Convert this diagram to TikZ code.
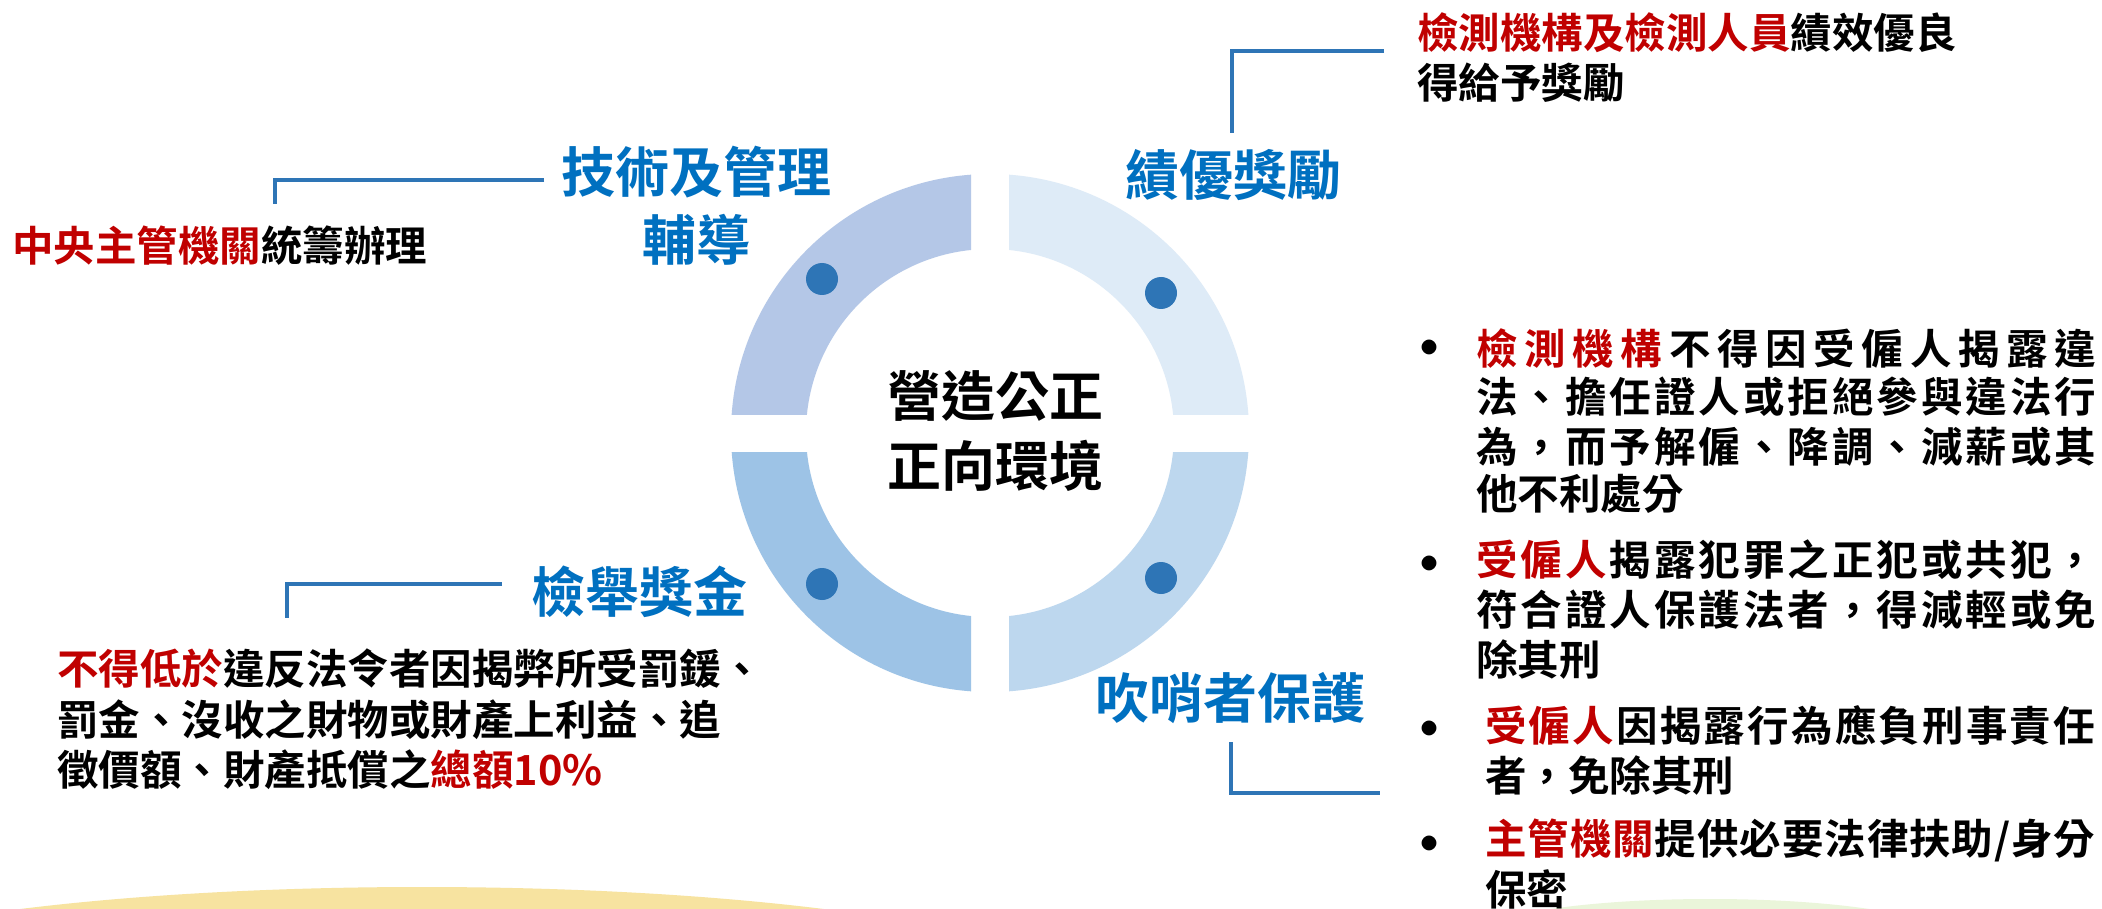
\documentclass[tikz,border=0pt]{standalone}
\usepackage{fontspec}
\setmainfont{Noto Sans CJK TC}[BoldFont={Noto Sans CJK TC Bold}]
\definecolor{qtl}{HTML}{B4C7E7}
\definecolor{qtr}{HTML}{DEEBF7}
\definecolor{qbl}{HTML}{9DC3E6}
\definecolor{qbr}{HTML}{BDD7EE}
\definecolor{dotc}{HTML}{2E75B6}
\definecolor{lblue}{HTML}{0070C0}
\definecolor{myred}{HTML}{C00000}
\definecolor{glowy}{HTML}{F7E3A0}
\definecolor{glowg}{HTML}{EAF5DA}
\pgfdeclareradialshading{yglow}{\pgfpoint{0bp}{0bp}}{color(0bp)=(glowy); color(42bp)=(glowy); color(50bp)=(white)}
\pgfdeclareradialshading{gglow}{\pgfpoint{0bp}{0bp}}{color(0bp)=(glowg); color(30bp)=(glowg); color(50bp)=(white)}
\newcommand\spc[1]{\spA#1\relax}
\def\spA#1{\ifx#1\relax\else#1\hfil\expandafter\spA\fi}
\newcommand\jline[2]{\makebox[#1][s]{#2\unskip}}
\newcommand\rd[1]{\textcolor{myred}{#1}}
\tikzset{
  bluelab/.style={text=lblue, inner sep=0pt, font=\bfseries\fontsize{54}{64}\selectfont},
  centlab/.style={text=black, inner sep=0pt, font=\bfseries\fontsize{54}{64}\selectfont},
  body/.style={text=black, inner sep=0pt, anchor=west, font=\bfseries\fontsize{41.5}{50}\selectfont},
  bul/.style={text=black, inner sep=0pt, font=\bfseries\fontsize{58}{64}\selectfont},
  conn/.style={draw=dotc, line width=3.5pt},
  dotnode/.style={circle, fill=dotc, minimum size=32pt, inner sep=0pt}
}
\begin{document}
\begin{tikzpicture}[x=1pt,y=-1pt]
\useasboundingbox (0,0) rectangle (2102,909);
\fill[white] (0,0) rectangle (2102,909);
% bottom glows
\begin{scope}
\clip (0,0) rectangle (2102,909);
\shade[shading=yglow] (422,995) ellipse (664pt and 108pt);
\shade[shading=gglow] (1710,935) ellipse (230pt and 36pt);
\end{scope}
% ring quadrants
\begin{scope}
\clip (0,0) rectangle (971,414);
\fill[qtl, even odd rule] (990,433) circle (259pt) (990,433) circle (184pt);
\end{scope}
\begin{scope}
\clip (1009,0) rectangle (2102,414);
\fill[qtr, even odd rule] (990,433) circle (259pt) (990,433) circle (184pt);
\end{scope}
\begin{scope}
\clip (0,452) rectangle (971,909);
\fill[qbl, even odd rule] (990,433) circle (259pt) (990,433) circle (184pt);
\end{scope}
\begin{scope}
\clip (1009,452) rectangle (2102,909);
\fill[qbr, even odd rule] (990,433) circle (259pt) (990,433) circle (184pt);
\end{scope}
% dots
\node[dotnode] (dtl) at (822,279) {};
\node[dotnode] (dtr) at (1161,293) {};
\node[dotnode] (dbl) at (822,584) {};
\node[dotnode] (dbr) at (1161,578) {};
% centre text
\node[centlab] (c1) at (995,396) {營造公正};
\node[centlab] (c2) at (995,466) {正向環境};
% blue labels
\node[bluelab] (l1a) at (696,172) {技術及管理};
\node[bluelab] (l1b) at (696,240) {輔導};
\node[bluelab] (l2) at (1233,175) {績優獎勵};
\node[bluelab] (l3) at (639,592) {檢舉獎金};
\node[bluelab] (l4) at (1230,698) {吹哨者保護};
% connectors
\coordinate (k1a) at (544,180); \coordinate (k1b) at (275,180); \coordinate (k1c) at (275,204);
\draw[conn] (k1a) -- (k1b) -- (k1c);
\coordinate (k2a) at (1384,51); \coordinate (k2b) at (1232,51); \coordinate (k2c) at (1232,133);
\draw[conn] (k2a) -- (k2b) -- (k2c);
\coordinate (k3a) at (502,584); \coordinate (k3b) at (287,584); \coordinate (k3c) at (287,618);
\draw[conn] (k3a) -- (k3b) -- (k3c);
\coordinate (k4a) at (1231,742); \coordinate (k4b) at (1231,793); \coordinate (k4c) at (1380,793);
\draw[conn] (k4a) -- (k4b) -- (k4c);
% left texts
\node[body] (t1) at (12,246) {\rd{中央主管機關}統籌辦理};
\node[body] (t2a) at (1417,33) {\rd{檢測機構及檢測人員}績效優良};
\node[body] (t2b) at (1417,83) {得給予獎勵};
\node[body] (t3a) at (57,669) {\rd{不得低於}違反法令者因揭弊所受罰鍰、};
\node[body] (t3b) at (57,720) {罰金、沒收之財物或財產上利益、追};
\node[body] (t3c) at (57,770) {徵價額、財產抵償之\rd{總額10\%}};
% bullets
\node[bul] (b1) at (1429,355) {•};
\node[bul] (b2) at (1429,571) {•};
\node[bul] (b3) at (1429,736) {•};
\node[bul] (b4) at (1429,851) {•};
\node[body] (p1a) at (1476,349) {\jline{620pt}{\rd{\spc{檢測機構}}\spc{不得因受僱人揭露違}}};
\node[body] (p1b) at (1476,397) {\jline{620pt}{\spc{法、擔任證人或拒絕參與違法行}}};
\node[body] (p1c) at (1476,447) {\jline{620pt}{\spc{為，而予解僱、降調、減薪或其}}};
\node[body] (p1d) at (1476,494) {他不利處分};
\node[body] (p2a) at (1476,560) {\jline{620pt}{\rd{\spc{受僱人}}\spc{揭露犯罪之正犯或共犯，}}};
\node[body] (p2b) at (1476,610) {\jline{620pt}{\spc{符合證人保護法者，得減輕或免}}};
\node[body] (p2c) at (1476,660) {除其刑};
\node[body] (p3a) at (1485,725) {\jline{610pt}{\rd{\spc{受僱人}}\spc{因揭露行為應負刑事責任}}};
\node[body] (p3b) at (1485,776) {者，免除其刑};
\node[body] (p4a) at (1485,840) {\jline{610pt}{\rd{\spc{主管機關}}\spc{提供必要法律扶助/身分}}};
\node[body] (p4b) at (1485,889) {保密};
\end{tikzpicture}
\end{document}
